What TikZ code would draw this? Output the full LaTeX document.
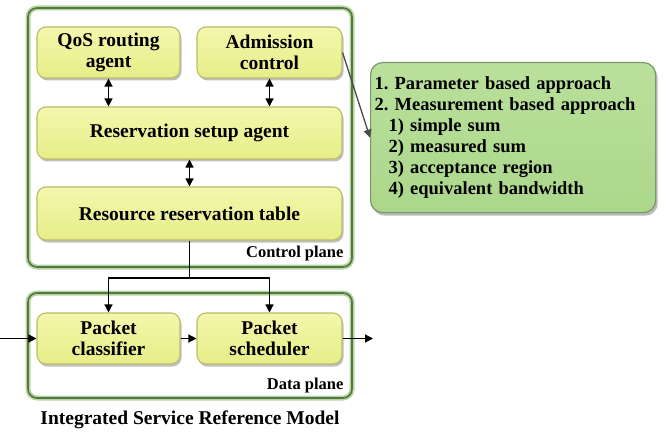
\documentclass[tikz,border=0pt]{standalone}
\usepackage{fontspec}
\setmainfont{Liberation Serif}
\usetikzlibrary{shadows,arrows.meta}
\definecolor{boxtop}{HTML}{F3F7AC}
\definecolor{boxbot}{HTML}{E6EE88}
\definecolor{boxline}{HTML}{BDBB6A}
\definecolor{planeline}{HTML}{4F7A3C}
\definecolor{planeglow}{HTML}{B9D3A6}
\definecolor{listtop}{HTML}{BAE09C}
\definecolor{listbot}{HTML}{ABD78B}
\definecolor{listline}{HTML}{7A9868}
\tikzset{
  blk/.style={draw=boxline, line width=1.1pt, rounded corners=9pt,
    top color=boxtop, bottom color=boxbot,
    drop shadow={shadow xshift=1.5pt, shadow yshift=-2.5pt, opacity=.5},
    font=\bfseries\fontsize{19.5}{21}\selectfont, align=center, inner sep=0pt},
  planeglow/.style={draw=planeglow, line width=5pt, rounded corners=9pt},
  planebox/.style={draw=planeline, line width=1.6pt, rounded corners=9pt},
  planelbl/.style={anchor=east, font=\bfseries\fontsize{16.5}{18}\selectfont},
  arr/.style={-{Triangle[length=8pt,width=8pt]}, line width=1.3pt},
  darr/.style={{Triangle[length=8pt,width=8pt]}-{Triangle[length=8pt,width=8pt]}, line width=1.3pt}
}
\begin{document}
\frenchspacing
\begin{tikzpicture}[x=1pt,y=-1pt]
  \useasboundingbox (0,0) rectangle (668,438);
  % planes
  \draw[planeglow] (28,8) rectangle (352,267);
  \draw[planebox] (28,8) rectangle (352,267);
  \draw[planeglow] (28,293) rectangle (352,398);
  \draw[planebox] (28,293) rectangle (352,398);
  \node[planelbl] (cplbl) at (347,254) {Control plane};
  \node[planelbl] (dplbl) at (347,386) {Data plane};

  % control plane blocks
  \node[blk, minimum width=143pt, minimum height=51pt] (qos) at (108.5,52.5) {QoS routing\\agent};
  \node[blk, minimum width=145pt, minimum height=51pt] (adm) at (269.5,52.5) {Admission\\control};
  \node[blk, minimum width=305pt, minimum height=52pt] (rsa) at (189.5,133) {Reservation setup agent};
  \node[blk, minimum width=305pt, minimum height=53pt] (rrt) at (189.5,213.5) {Resource reservation table};

  % data plane blocks
  \node[blk, minimum width=143pt, minimum height=51pt] (pc) at (108.5,338.5) {Packet\\classifier};
  \node[blk, minimum width=145pt, minimum height=51pt] (ps) at (269.5,338.5) {Packet\\scheduler};

  % admission approaches
  \node[draw=listline, line width=1.2pt, rounded corners=12pt, top color=listtop, bottom color=listbot,
    drop shadow={shadow xshift=2pt, shadow yshift=-3pt, opacity=.55},
    anchor=north west, text width=277pt, minimum height=150pt, inner sep=4pt,
    align=left, font=\bfseries\fontsize{18.5}{21}\selectfont] (list) at (370,62)
    {1. Parameter based approach\\
     2. Measurement based approach\\
     \hspace*{14pt}1) simple sum\\
     \hspace*{14pt}2) measured sum\\
     \hspace*{14pt}3) acceptance region\\
     \hspace*{14pt}4) equivalent bandwidth};

  % connectors
  \draw[darr] (qos.south) -- (qos.south |- rsa.north);
  \draw[darr] (adm.south) -- (adm.south |- rsa.north);
  \draw[darr] (rsa.south) -- (rrt.north);
  \coordinate (split) at (189.5,278);
  \draw[line width=1.3pt] (rrt.south) -- (split);
  \draw[arr] (split) -| (pc.north);
  \draw[arr] (split) -| (ps.north);
  \coordinate (in) at (0,338.5);
  \coordinate (out) at (373,338.5);
  \draw[arr] (in) -- (pc.west);
  \draw[arr] (pc.east) -- (ps.west);
  \draw[arr] (ps.east) -- (out);
  \draw[arr, draw=black!70, fill=black!70] (adm.east) -- (list.west);

  % caption
  \node[font=\bfseries\fontsize{19.5}{22}\selectfont] (cap) at (190,420) {Integrated Service Reference Model};
\end{tikzpicture}
\end{document}
